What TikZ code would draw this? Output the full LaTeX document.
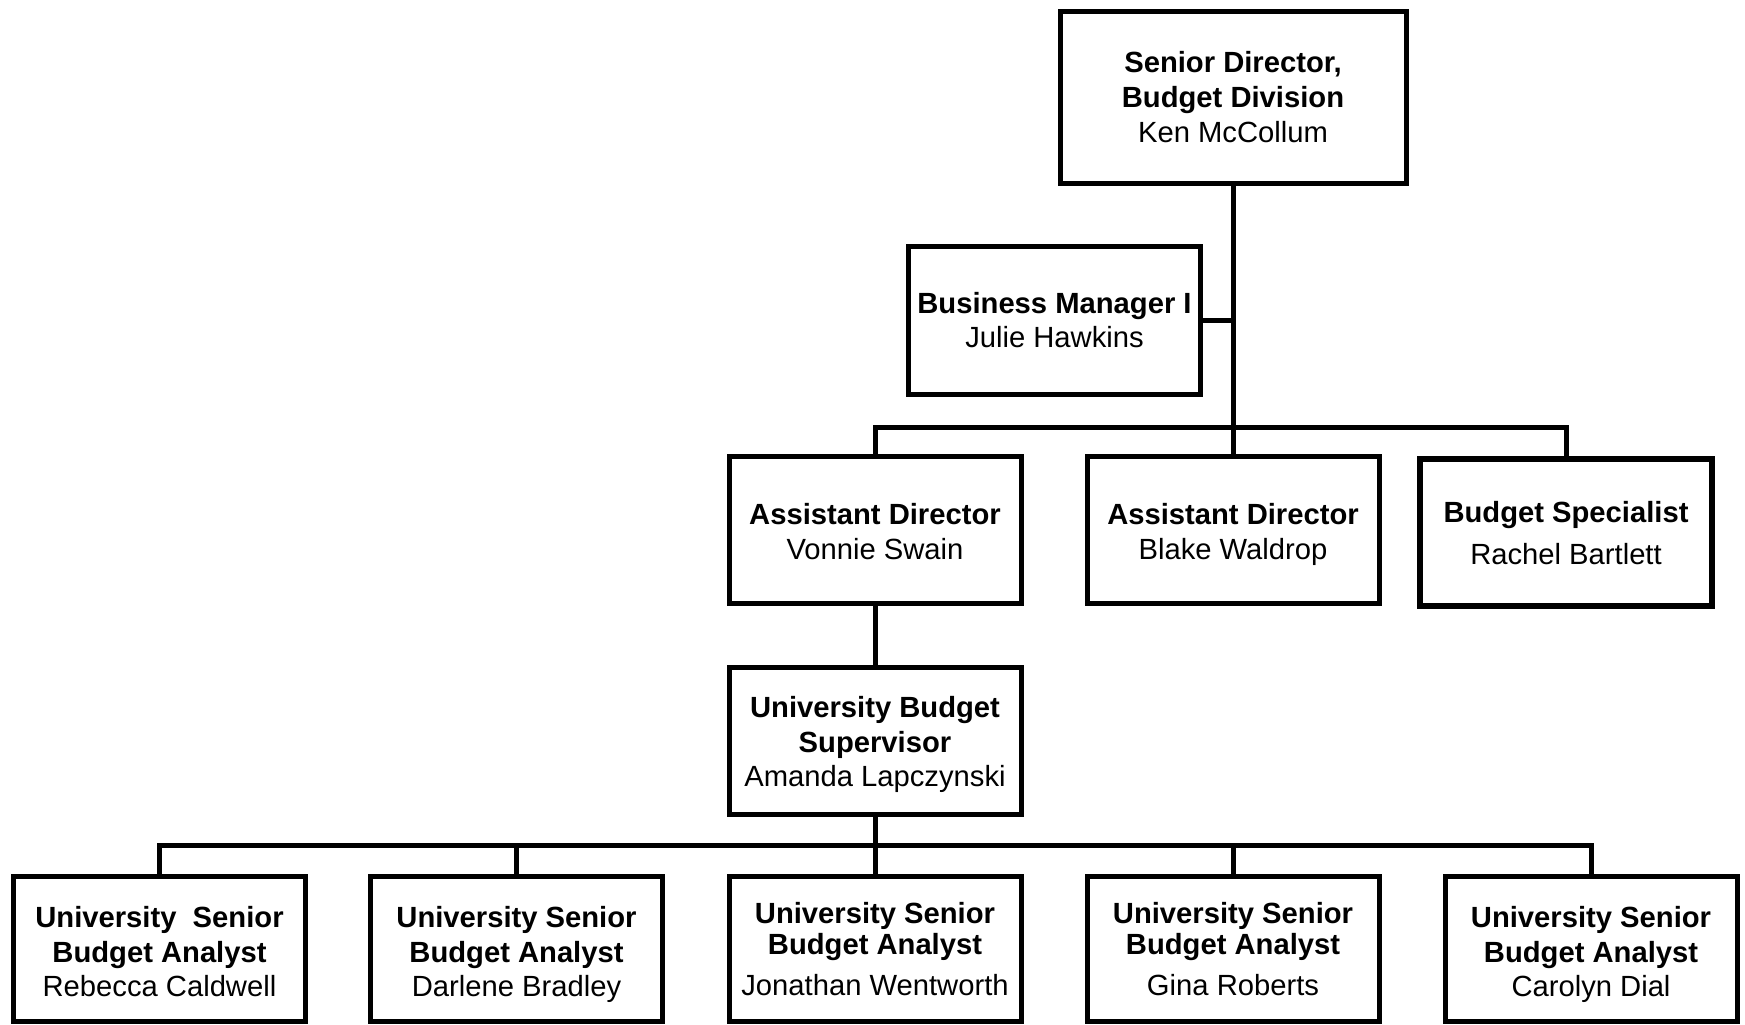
\documentclass[tikz,border=0pt]{standalone}
\usepackage{fontspec}
\setmainfont{Liberation Sans}
\usepackage{tikz}

\newcommand{\padtop}[1]{\rule{0pt}{#1}}

\begin{document}
\begin{tikzpicture}[
        x=0.5pt, y=-0.5pt,
        post/.style={draw, line width=2.5pt, align=center, inner sep=0pt,
            minimum width=146pt, minimum height=73.5pt, text depth=0pt,
            font=\fontsize{14.6}{17.3}\selectfont},
        analyst/.style={post, minimum height=72.5pt},
        link/.style={line width=2.5pt}
    ]
        \useasboundingbox (0,0) rectangle (1745,1024);

        \node [post, minimum width=173pt, minimum height=86pt] (dir) at (1233,97)
            {\textbf{Senior Director,}\\\textbf{Budget Division}\\Ken McCollum};
        \node [post, minimum height=74pt] (bm) at (1054.5,320)
            {\textbf{Business Manager I}\\Julie Hawkins};

        \node [post] (adswain)   at (875,529.5)  {\padtop{12.7pt}\textbf{Assistant Director}\\Vonnie Swain};
        \node [post] (adwaldrop) at (1233,529.5) {\padtop{12.7pt}\textbf{Assistant Director}\\Blake Waldrop};
        \node [post, line width=3.25pt] (spec) at (1566,532.5)
            {\textbf{Budget Specialist}\\[3.7pt]Rachel Bartlett};

        \node [post] (sup) at (875,740.5)
            {\padtop{11.5pt}\textbf{University Budget}\\\textbf{Supervisor}\\Amanda Lapczynski};

        \node [analyst] (an1) at (159.5,949)
            {\padtop{13.3pt}\textbf{University~~Senior}\\\textbf{Budget Analyst}\\Rebecca Caldwell};
        \node [analyst] (an2) at (516.5,949)
            {\padtop{13.3pt}\textbf{University Senior}\\\textbf{Budget Analyst}\\Darlene Bradley};
        \node [analyst] (an3) at (875,949)
            {\textbf{University Senior}\\[-1.5pt]\textbf{Budget Analyst}\\[3.2pt]Jonathan Wentworth};
        \node [analyst] (an4) at (1233,949)
            {\textbf{University Senior}\\[-1.5pt]\textbf{Budget Analyst}\\[3.2pt]Gina Roberts};
        \node [analyst] (an5) at (1591,949)
            {\padtop{13.3pt}\textbf{University Senior}\\\textbf{Budget Analyst}\\Carolyn Dial};

        \coordinate (tap)  at (1233,320);
        \coordinate (hub)  at (1233,427.5);
        \coordinate (fork) at (875,845.5);

        \draw [link] (dir) -- (hub) -- (adwaldrop);
        \draw [link] (bm) -- (tap);
        \draw [link] (adswain) |- (hub) -| (spec);
        \draw [link] (adswain) -- (sup);
        \draw [link] (sup) -- (fork);
        \draw [link] (an1) |- (fork) -| (an5);
        \foreach \n in {an2,an3,an4}
            \draw [link] (\n) -- (\n |- fork);
    \end{tikzpicture}
\end{document}
